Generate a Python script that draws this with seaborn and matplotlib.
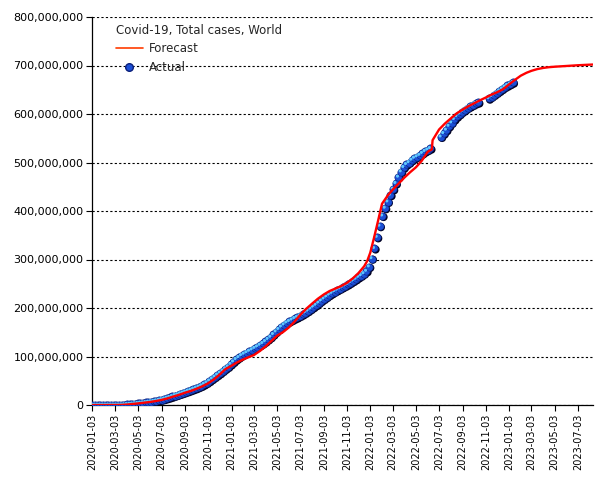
import matplotlib
matplotlib.use("Agg")
import matplotlib.pyplot as plt
import matplotlib.transforms as mtransforms
from matplotlib.lines import Line2D
from matplotlib.ticker import FuncFormatter
import seaborn as sns
import pandas as pd
import numpy as np

# ---------------- data (millions of cases) ----------------
actual_dates = [
    "2020-01-03","2020-01-10","2020-01-17","2020-01-24","2020-01-31","2020-02-07","2020-02-14","2020-02-21",
    "2020-02-28","2020-03-06","2020-03-13","2020-03-20","2020-03-27","2020-04-03","2020-04-10","2020-04-17",
    "2020-04-24","2020-05-01","2020-05-08","2020-05-15","2020-05-22","2020-05-29","2020-06-05","2020-06-12",
    "2020-06-19","2020-06-26","2020-07-03","2020-07-10","2020-07-17","2020-07-24","2020-07-31","2020-08-07",
    "2020-08-14","2020-08-21","2020-08-28","2020-09-04","2020-09-11","2020-09-18","2020-09-25","2020-10-02",
    "2020-10-09","2020-10-16","2020-10-23","2020-10-30","2020-11-06","2020-11-13","2020-11-20","2020-11-27",
    "2020-12-04","2020-12-11","2020-12-18","2020-12-25","2021-01-01","2021-01-08","2021-01-15","2021-01-22",
    "2021-01-29","2021-02-05","2021-02-12","2021-02-19","2021-02-26","2021-03-05","2021-03-12","2021-03-19",
    "2021-03-26","2021-04-02","2021-04-09","2021-04-16","2021-04-23","2021-04-30","2021-05-07","2021-05-14",
    "2021-05-21","2021-05-28","2021-06-04","2021-06-11","2021-06-18","2021-06-25","2021-07-02","2021-07-09",
    "2021-07-16","2021-07-23","2021-07-30","2021-08-06","2021-08-13","2021-08-20","2021-08-27","2021-09-03",
    "2021-09-10","2021-09-17","2021-09-24","2021-10-01","2021-10-08","2021-10-15","2021-10-22","2021-10-29",
    "2021-11-05","2021-11-12","2021-11-19","2021-11-26","2021-12-03","2021-12-10","2021-12-17","2021-12-24",
    "2021-12-31","2022-01-07","2022-01-14","2022-01-21","2022-01-28","2022-02-04","2022-02-11","2022-02-18",
    "2022-02-25","2022-03-04","2022-03-11","2022-03-18","2022-03-25","2022-04-01","2022-04-08","2022-04-15",
    "2022-04-22","2022-04-29","2022-05-06","2022-05-13","2022-05-20","2022-05-27","2022-06-03","2022-06-10",
    "2022-07-08","2022-07-15","2022-07-22","2022-07-29","2022-08-05","2022-08-12","2022-08-19","2022-08-26",
    "2022-09-02","2022-09-09","2022-09-16","2022-09-23","2022-09-30","2022-10-07","2022-10-14",
    "2022-11-11","2022-11-18","2022-11-25","2022-12-02","2022-12-09","2022-12-16","2022-12-23","2022-12-30",
    "2023-01-06","2023-01-13",
]
actual_values = [
    0.0, 0.0, 0.0, 0.0, 0.01, 0.03, 0.05, 0.08,
    0.09, 0.1, 0.14, 0.27, 0.6, 1.1, 1.7, 2.2,
    2.8, 3.4, 4.0, 4.6, 5.3, 6.0, 6.8, 7.7,
    8.7, 9.9, 11.2, 12.6, 14.2, 15.8, 17.6, 19.5,
    21.3, 23.2, 25.0, 27.0, 28.9, 30.9, 33.0, 35.0,
    37.3, 39.8, 42.8, 46.0, 49.8, 54.0, 58.0, 62.0,
    66.0, 70.5, 75.0, 79.0, 84.0, 89.0, 94.0, 98.0,
    102.0, 105.0, 108.0, 111.0, 114.0, 117.0, 120.0, 123.5,
    127.0, 131.0, 135.5, 140.0, 145.5, 151.0, 156.0, 161.0,
    165.5, 169.5, 172.5, 175.5, 178.5, 181.0, 184.0, 187.0,
    190.5, 194.0, 198.0, 202.0, 206.0, 210.5, 215.0, 219.0,
    223.0, 227.0, 230.5, 234.0, 237.0, 240.0, 243.0, 246.0,
    249.0, 252.5, 256.0, 259.5, 263.5, 267.0, 271.0, 276.0,
    285.0, 302.0, 323.0, 346.0, 369.0, 390.0, 406.0, 419.0,
    433.0, 445.0, 457.0, 470.0, 481.0, 490.0, 496.0, 500.0,
    505.0, 509.0, 512.0, 515.0, 519.0, 523.0, 526.0, 529.0,
    553.0, 560.0, 567.0, 575.0, 582.0, 589.0, 595.0, 600.0,
    605.0, 609.0, 613.0, 616.0, 619.0, 622.0, 624.0,
    632.0, 636.0, 640.0, 644.0, 648.0, 652.0, 656.0, 659.0,
    662.0, 665.0,
]

forecast_dates = [
    "2020-01-03","2020-01-18","2020-02-03","2020-02-18","2020-03-03","2020-03-18","2020-04-03","2020-04-18",
    "2020-05-03","2020-05-18","2020-06-03","2020-06-18","2020-07-03","2020-07-18","2020-08-03","2020-08-18",
    "2020-09-03","2020-09-18","2020-10-03","2020-10-18","2020-11-03","2020-11-18","2020-12-03","2020-12-18",
    "2021-01-03","2021-01-18","2021-02-03","2021-02-18","2021-03-03","2021-03-18","2021-04-03","2021-04-18",
    "2021-05-03","2021-05-18","2021-06-03","2021-06-18","2021-07-03","2021-07-18","2021-08-03","2021-08-18",
    "2021-09-03","2021-09-18","2021-10-03","2021-10-18","2021-11-03","2021-11-18","2021-12-03","2021-12-18",
    "2021-12-26","2022-01-03","2022-01-13","2022-01-23","2022-02-03","2022-02-18","2022-03-03","2022-03-18",
    "2022-04-03","2022-04-18","2022-05-03","2022-05-18","2022-06-03","2022-06-14","2022-06-16","2022-07-03",
    "2022-07-18","2022-08-03","2022-08-18","2022-09-03","2022-09-18","2022-10-03","2022-10-18","2022-11-03",
    "2022-11-18","2022-12-03","2022-12-18","2023-01-03","2023-01-18","2023-02-03","2023-02-18","2023-03-03",
    "2023-03-18","2023-04-03","2023-04-18","2023-05-03","2023-06-03","2023-07-03","2023-08-11",
]
forecast_values = [
    0.0, 0.0, 0.0, 0.1, 0.1, 0.2, 1.0, 2.2,
    3.4, 4.8, 6.3, 8.2, 10.5, 13.5, 17.5, 21.0,
    25.5, 29.0, 33.5, 38.5, 45.0, 53.0, 63.0, 74.0,
    81.0, 88.0, 94.0, 99.0, 103.0, 111.0, 121.0, 132.0,
    143.0, 150.0, 160.0, 172.0, 186.0, 198.0, 209.0, 219.0,
    228.0, 235.0, 240.0, 245.0, 252.0, 261.0, 272.0, 286.0,
    297.0, 314.0, 345.0, 378.0, 415.0, 432.0, 444.0, 456.0,
    469.0, 480.0, 490.0, 503.0, 522.0, 527.0, 546.0, 568.0,
    580.0, 591.0, 601.0, 609.0, 616.0, 622.0, 628.0, 634.0,
    640.0, 645.0, 651.0, 661.0, 670.0, 679.0, 685.0, 689.0,
    692.5, 695.0, 696.5, 697.5, 699.0, 700.5, 702.0,
]

tick_labels = [
    "2020-01-03","2020-03-03","2020-05-03","2020-07-03","2020-09-03","2020-11-03",
    "2021-01-03","2021-03-03","2021-05-03","2021-07-03","2021-09-03","2021-11-03",
    "2022-01-03","2022-03-03","2022-05-03","2022-07-03","2022-09-03","2022-11-03",
    "2023-01-03","2023-03-03","2023-05-03","2023-07-03",
]

legend_title = "Covid-19, Total cases, World"
series_labels = ["Forecast", "Actual"]

actual = pd.DataFrame({"date": pd.to_datetime(actual_dates),
                       "cases": np.array(actual_values) * 1e6})
forecast = pd.DataFrame({"date": pd.to_datetime(forecast_dates),
                         "cases": np.array(forecast_values) * 1e6})

# ---------------- plot ----------------
sns.set_theme(style="white")
plt.rcParams["font.family"] = ["DejaVu Sans"]

fig = plt.figure(figsize=(6.05, 4.8), dpi=100)
ax = fig.add_axes([92 / 605, 1 - 405 / 480, (593 - 92) / 605, (405 - 17) / 480])

# sphere-like markers: shadow, body, highlight
shadow_tr = mtransforms.offset_copy(ax.transData, fig=fig, x=1.2, y=-1.2, units="dots")
hi_tr = mtransforms.offset_copy(ax.transData, fig=fig, x=-0.9, y=0.9, units="dots")
sns.scatterplot(data=actual, x="date", y="cases", ax=ax, s=34, color="#000020",
                edgecolor="none", transform=shadow_tr, zorder=2, legend=False)
sns.scatterplot(data=actual, x="date", y="cases", ax=ax, s=28, color="#1c4fd6",
                edgecolor="#0a1f7a", linewidth=0.4, zorder=3, legend=False)
sns.scatterplot(data=actual, x="date", y="cases", ax=ax, s=5, color="#5fc8ff",
                edgecolor="none", transform=hi_tr, zorder=4, legend=False)

sns.lineplot(data=forecast, x="date", y="cases", ax=ax, color="#ff0000",
             linewidth=1.7, zorder=5, legend=False)

ax.set_xlim(pd.Timestamp("2020-01-02"), pd.Timestamp("2023-08-12"))
ax.set_ylim(0, 800e6)
ax.set_yticks(np.arange(0, 800e6 + 1, 100e6))
ax.yaxis.set_major_formatter(FuncFormatter(lambda v, p: f"{int(round(v)):,}"))
ticks = pd.to_datetime(tick_labels)
ax.set_xticks(ticks)
ax.set_xticklabels(tick_labels, rotation=90, fontsize=7, color="black")
ax.tick_params(axis="y", labelsize=8, labelcolor="black")
ax.tick_params(axis="both", direction="out", length=4, width=0.8, color="black",
               bottom=True, left=True, pad=2)
ax.set_xlabel("")
ax.set_ylabel("")

ax.grid(False)
ax.yaxis.grid(True, linestyle=(0, (2, 2)), color="black", linewidth=0.8)
ax.set_axisbelow(True)
for side in ["top", "right"]:
    ax.spines[side].set_visible(False)
for side in ["left", "bottom"]:
    ax.spines[side].set_color("black")
    ax.spines[side].set_linewidth(0.9)

handles = [
    Line2D([], [], color="#ff3c00", linewidth=1.2),
    Line2D([], [], marker="o", linestyle="none", markersize=5.5,
           markerfacecolor="#1c4fd6", markeredgecolor="#0a1f7a"),
]
leg = ax.legend(handles, series_labels, title=legend_title, loc="upper left",
                bbox_to_anchor=(0.031, 1.003), frameon=False, fontsize=8.5,
                title_fontsize=8.5, handlelength=2.3, handletextpad=0.5,
                labelspacing=0.45, borderaxespad=0.3)
leg._legend_box.align = "left"
leg._legend_box._children[1].sep = 2.5

fig.savefig("out.png", dpi=100)
